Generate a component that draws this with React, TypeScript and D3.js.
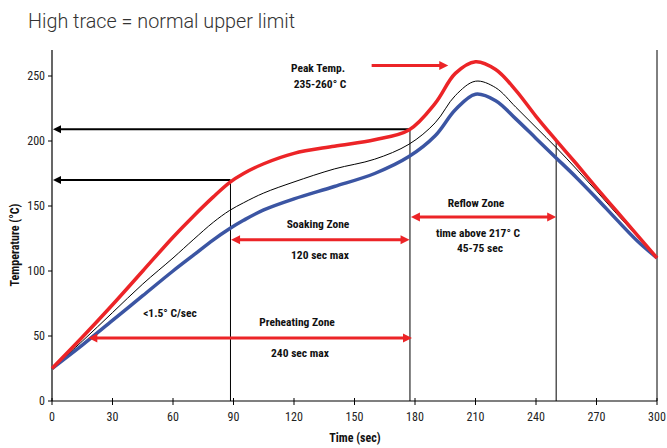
import React from "react";
import * as d3 from "d3";

const times = [0, 15, 30, 45, 60, 70, 80, 88, 95, 105, 120, 140, 160, 177, 190, 200, 210, 220, 230, 240, 250, 260, 270, 280, 290, 300];
const highTrace = [25, 49, 74, 100, 126, 142, 157, 168, 175, 182.5, 190.5, 196, 201, 208.5, 229, 252, 261, 255, 239, 219, 200.5, 182.5, 164, 146, 128, 110];
const midTrace = [25, 46, 68, 90, 110, 124, 137.5, 146.5, 152.5, 160, 168.5, 178.5, 186, 197.5, 214, 235, 246, 241, 226, 210.5, 195, 178.5, 161.5, 144, 127, 110];
const lowTrace = [25, 43, 62, 81, 100, 112, 124, 132.5, 139, 147, 155.5, 165, 175, 188, 204, 224, 236, 231, 217, 202, 187, 172, 156, 139.5, 123.5, 110];

const xTicks = [0, 30, 60, 90, 120, 150, 180, 210, 240, 270, 300];
const yTicks = [0, 50, 100, 150, 200, 250];

const title = "High trace = normal upper limit";
const xLabel = "Time (sec)";
const yLabel = "Temperature (°C)";

const zoneLines = [
  { t: 88.5, from: 170 },
  { t: 177.5, from: 209 },
  { t: 250, from: 200 },
];
const limitArrows = [209, 170];

const RED = "#ec2427";
const BLUE = "#3b55a3";
const FONT = "'Liberation Sans Narrow', 'Arial Narrow', 'Roboto Condensed', sans-serif";

export default function App() {
  const W = 667, H = 448;
  const x = d3.scaleLinear().domain([0, 300]).range([52, 657]);
  const y = d3.scaleLinear().domain([0, 270]).range([401, 50]);

  const mk = (vals: number[]) =>
    d3.line<number>()
      .x((_, i) => x(times[i]))
      .y((v) => y(v))
      .curve(d3.curveCatmullRom.alpha(0.5))(vals) as string;

  const arrowHead = (px: number, py: number, dir: number, len: number, half: number, color: string, key: string) => (
    <polygon key={key} points={`${px},${py} ${px - dir * len},${py - half} ${px - dir * len},${py + half}`} fill={color} />
  );

  const redDouble = (t1: number, t2: number, temp: number, key: string) => {
    const x1 = x(t1), x2 = x(t2), yy = y(temp);
    return (
      <g key={key}>
        <line x1={x1 + 6} x2={x2 - 6} y1={yy} y2={yy} stroke={RED} strokeWidth={3} />
        {arrowHead(x1, yy, -1, 9, 4.5, RED, key + "a")}
        {arrowHead(x2, yy, 1, 9, 4.5, RED, key + "b")}
      </g>
    );
  };

  const lbl = (txt: string, cx: number, cy: number, key: string) => (
    <text key={key} x={cx} y={cy} textAnchor="middle" fontFamily={FONT} fontWeight="bold" fontSize={11.5} fill="#111">{txt}</text>
  );

  return (
    <svg width={W} height={H} style={{ position: "absolute", left: 0, top: 0 }}>
      <rect width={W} height={H} fill="#fff" />
      <text x={28} y={28} fontFamily="Roboto, 'Liberation Sans Narrow', sans-serif" fontWeight={300} fontSize={20} fill="#333"
        textLength={267} lengthAdjust="spacingAndGlyphs">{title}</text>

      <line x1={x(0)} x2={x(0)} y1={y(270)} y2={y(0)} stroke="#000" strokeWidth={1.2} />
      <line x1={x(0)} x2={x(300)} y1={y(0)} y2={y(0)} stroke="#000" strokeWidth={1.2} />
      <line x1={x(300)} x2={x(300)} y1={y(270)} y2={y(0)} stroke="#000" strokeWidth={1} />
      {yTicks.map((v) => (
        <g key={"y" + v}>
          <line x1={x(0) - 4} x2={x(0)} y1={y(v)} y2={y(v)} stroke="#000" />
          <text x={x(0) - 7} y={y(v) + 4} textAnchor="end" fontFamily={FONT} fontSize={12} fill="#222">{v}</text>
        </g>
      ))}
      {xTicks.map((v) => (
        <g key={"x" + v}>
          <line x1={x(v)} x2={x(v)} y1={y(0) - 3} y2={y(0) + 4} stroke="#000" />
          <text x={x(v)} y={y(0) + 20} textAnchor="middle" fontFamily={FONT} fontSize={12} fill="#222">{v}</text>
        </g>
      ))}
      <text x={355} y={442} textAnchor="middle" fontFamily={FONT} fontWeight="bold" fontSize={12} fill="#111">{xLabel}</text>
      <text transform={`translate(19,${y(120)}) rotate(-90)`} textAnchor="middle" fontFamily={FONT} fontWeight="bold" fontSize={12} fill="#111">{yLabel}</text>

      {zoneLines.map((z, i) => (
        <line key={"z" + i} x1={x(z.t)} x2={x(z.t)} y1={y(z.from)} y2={y(0)} stroke="#000" strokeWidth={1} />
      ))}
      {limitArrows.map((v, i) => (
        <g key={"la" + i}>
          <line x1={x(0) + 6} x2={x(zoneLines[1 - i].t)} y1={y(v)} y2={y(v)} stroke="#000" strokeWidth={2} />
          {arrowHead(x(0) + 1, y(v), -1, 8, 4, "#000", "lah" + i)}
        </g>
      ))}

      <path d={mk(lowTrace)} fill="none" stroke={BLUE} strokeWidth={3.5} />
      <path d={mk(midTrace)} fill="none" stroke="#000" strokeWidth={1} />
      <path d={mk(highTrace)} fill="none" stroke={RED} strokeWidth={3.5} />

      {redDouble(18, 178.5, 48.5, "pre")}
      {redDouble(88.8, 177.3, 124, "soak")}
      {redDouble(178, 250, 141.5, "reflow")}
      <line x1={x(158.5)} x2={x(193)} y1={y(258)} y2={y(258)} stroke={RED} strokeWidth={3} />
      {arrowHead(x(196.5), y(258), 1, 9, 4.5, RED, "peakh")}

      {lbl("Peak Temp.", 318, 72, "l1")}
      {lbl("235-260° C", 320, 88, "l2")}
      {lbl("Reflow Zone", 476, 207, "l3")}
      {lbl("time above  217° C", 478, 237, "l4")}
      {lbl("45-75 sec", 480, 252, "l5")}
      {lbl("Soaking Zone", 318, 228, "l6")}
      {lbl("120 sec max", 320, 259, "l7")}
      {lbl("<1.5° C/sec", 170, 317, "l8")}
      {lbl("Preheating Zone", 297, 326, "l9")}
      {lbl("240 sec max", 300, 357, "l10")}
    </svg>
  );
}
